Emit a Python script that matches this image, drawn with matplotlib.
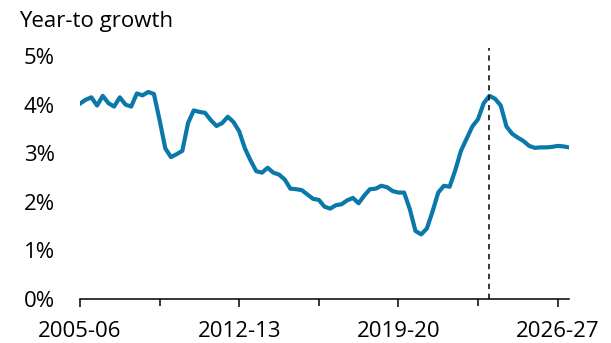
import numpy as np
import matplotlib
matplotlib.use("Agg")
import matplotlib.pyplot as plt
from matplotlib.ticker import FixedLocator, FuncFormatter

plt.rcParams["font.family"] = ["Open Sans", "DejaVu Sans"]

# ── Data: quarterly year-to growth (%), starting 2005-06 ───────────────────────
growth = [
    4.02, 4.10, 4.15, 3.98, 4.18, 4.03, 3.96, 4.15, 4.00, 3.96,
    4.23, 4.19, 4.26, 4.22, 3.68, 3.10, 2.92, 2.98, 3.05, 3.62,
    3.88, 3.85, 3.83, 3.68, 3.56, 3.62, 3.75, 3.64, 3.45, 3.10,
    2.85, 2.63, 2.60, 2.70, 2.60, 2.56, 2.46, 2.27, 2.26, 2.24,
    2.15, 2.06, 2.04, 1.90, 1.86, 1.93, 1.95, 2.03, 2.08, 1.97,
    2.13, 2.26, 2.27, 2.33, 2.30, 2.22, 2.19, 2.19, 1.85, 1.40,
    1.33, 1.45, 1.80, 2.19, 2.33, 2.31, 2.65, 3.05, 3.30, 3.55,
    3.70, 4.03, 4.18, 4.12, 3.98, 3.55, 3.40, 3.32, 3.25, 3.15,
    3.11, 3.12, 3.12, 3.13, 3.15, 3.14, 3.12,
]
years = np.arange(len(growth)) / 4.0          # years since 2005-06
tick_years = [0, 7, 14, 21]
tick_labels = ["2005-06", "2012-13", "2019-20", "2026-27"]
minor_years = [3.5, 10.5, 17.5]
forecast_start = 18                            # 2023-24
y_ticks = [0, 1, 2, 3, 4, 5]

# ── Figure ─────────────────────────────────────────────────────────────────────
fig = plt.figure(figsize=(6.11, 3.43), dpi=100, facecolor="white")
ax = fig.add_axes([80 / 611, 1 - 299 / 343, 489 / 611, 251 / 343])

ax.plot(years, growth, color="#0a78a8", linewidth=3.0, solid_joinstyle="round")
ax.axvline(forecast_start, color="black", linestyle=(0, (3.5, 3)), linewidth=1.1)

ax.set_xlim(0, 21.5)
ax.set_ylim(0, 5.165)

for s in ["top", "right", "left"]:
    ax.spines[s].set_visible(False)
ax.spines["bottom"].set_linewidth(1.1)

ax.xaxis.set_major_locator(FixedLocator(tick_years))
ax.set_xticklabels(tick_labels)
ax.xaxis.set_minor_locator(FixedLocator(minor_years))
ax.tick_params(axis="x", which="major", length=6, width=1.1, pad=10, labelsize=16)
ax.tick_params(axis="x", which="minor", length=5, width=1.1)

ax.yaxis.set_major_locator(FixedLocator(y_ticks))
ax.yaxis.set_major_formatter(FuncFormatter(lambda v, p: f"{v:.0f}%"))
ax.tick_params(axis="y", length=0, pad=18, labelsize=16)

fig.text(19 / 611, 1 - 22 / 343, "Year-to growth", fontsize=16, va="center", ha="left")

plt.savefig("out.png", dpi=100, facecolor="white")
plt.close()
